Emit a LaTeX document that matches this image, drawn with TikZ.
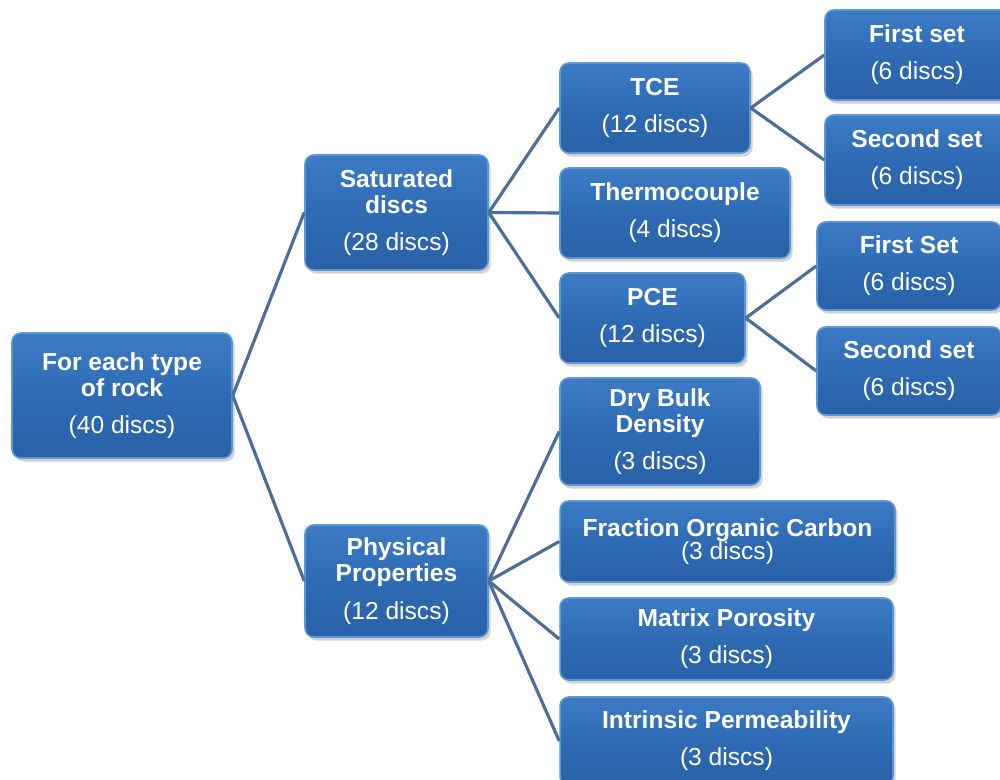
\documentclass[tikz,border=0pt]{standalone}
\usepackage{fontspec}
\setmainfont{Liberation Sans}
\usetikzlibrary{shadows}
\definecolor{boxtop}{HTML}{3D7BC5}
\definecolor{boxmid}{HTML}{2E6BB4}
\definecolor{boxbot}{HTML}{2961A7}
\definecolor{boxedge}{HTML}{5F97D5}
\definecolor{linkcol}{HTML}{4D6E96}
\tikzset{
  blockbox/.style={
    rectangle, rounded corners=5pt, draw=boxedge, line width=0.9pt,
    top color=boxtop, bottom color=boxbot, middle color=boxmid,
    text=white, align=center, inner sep=2pt,
    font=\fontsize{14pt}{14.9pt}\selectfont,
    drop shadow={opacity=0.35, shadow xshift=1.5pt, shadow yshift=-2pt},
    append after command={
      \pgfextra{\fill[white, opacity=0.9] ([shift={(4.5,-4.5)}]\tikzlastnode.south west) circle[radius=2pt];}
    }
  },
  link/.style={draw=linkcol, line width=1.8pt}
}
\begin{document}
\begin{tikzpicture}[x=0.02cm, y=-0.02cm]
\useasboundingbox[fill=white] (0,0) rectangle (1000,780);

% root
\node[blockbox, minimum width=4.4cm, minimum height=2.5cm] (root) at (122,395.5)
  {\textbf{For each type}\\\textbf{of rock}\\[6.3pt](40 discs)};

% second level
\node[blockbox, minimum width=3.66cm, minimum height=2.3cm] (sat) at (396.5,212.5)
  {\textbf{Saturated}\\\textbf{discs}\\[6.3pt](28 discs)};
\node[blockbox, minimum width=3.66cm, minimum height=2.24cm] (phys) at (396.5,581)
  {\textbf{Physical}\\\textbf{Properties}\\[6.3pt](12 discs)};

% saturated branch
\node[blockbox, minimum width=3.8cm, minimum height=1.8cm] (tce) at (655,108)
  {\textbf{TCE}\\[6.3pt](12 discs)};
\node[blockbox, minimum width=4.6cm, minimum height=1.8cm] (thermo) at (675,213)
  {\textbf{Thermocouple}\\[6.3pt](4 discs)};
\node[blockbox, minimum width=3.7cm, minimum height=1.8cm] (pce) at (652.5,318)
  {\textbf{PCE}\\[6.3pt](12 discs)};

% physical branch
\node[blockbox, minimum width=4.0cm, minimum height=2.14cm] (dry) at (660,431.5)
  {\textbf{Dry Bulk}\\\textbf{Density}\\[6.3pt](3 discs)};
\node[blockbox, minimum width=6.7cm, minimum height=1.62cm] (frac) at (727.5,541.5)
  {\textbf{Fraction Organic Carbon}\\[-1.7pt](3 discs)};
\node[blockbox, minimum width=6.66cm, minimum height=1.64cm] (matrix) at (726.5,639)
  {\textbf{Matrix Porosity}\\[6.3pt](3 discs)};
\node[blockbox, minimum width=6.66cm, minimum height=1.76cm] (intr) at (726.5,741)
  {\textbf{Intrinsic Permeability}\\[6.3pt](3 discs)};

% sets
\node[blockbox, minimum width=3.68cm, minimum height=1.8cm] (tceA) at (917,55)
  {\textbf{First set}\\[6.3pt](6 discs)};
\node[blockbox, minimum width=3.68cm, minimum height=1.8cm] (tceB) at (917,160)
  {\textbf{Second set}\\[6.3pt](6 discs)};
\node[blockbox, minimum width=3.68cm, minimum height=1.76cm] (pceA) at (909,266)
  {\textbf{First Set}\\[6.3pt](6 discs)};
\node[blockbox, minimum width=3.68cm, minimum height=1.76cm] (pceB) at (909,371)
  {\textbf{Second set}\\[6.3pt](6 discs)};

% connectors
\draw[link] (root.east) -- (sat.west);
\draw[link] (root.east) -- (phys.west);
\draw[link] (sat.east) -- (tce.west);
\draw[link] (sat.east) -- (thermo.west);
\draw[link] (sat.east) -- (pce.west);
\draw[link] (phys.east) -- (dry.west);
\draw[link] (phys.east) -- (frac.west);
\draw[link] (phys.east) -- (matrix.west);
\draw[link] (phys.east) -- (intr.west);
\draw[link] (tce.east) -- (tceA.west);
\draw[link] (tce.east) -- (tceB.west);
\draw[link] (pce.east) -- (pceA.west);
\draw[link] (pce.east) -- (pceB.west);
\end{tikzpicture}
\end{document}
